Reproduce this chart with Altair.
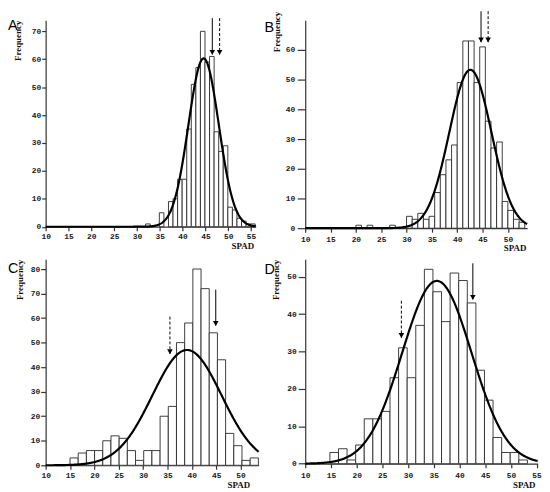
import altair as alt
import pandas as pd

panel_names = ["A", "B", "C", "D"]

# histogram bins (SPAD)
bin_start = [31.9, 20.0, 15.0, 14.8]
bin_width = [1.0, 1.111, 1.68, 1.67]

counts_A = [1, 0, 0, 5, 0, 9, 10, 17, 17, 35, 51, 57, 70, 59, 61, 34, 27, 29, 7, 6, 3, 2, 1, 1]
counts_B = [1, 0, 1, 0, 0, 0, 1, 0, 0, 4, 3, 5, 3, 4, 12, 18, 23, 28, 49, 63, 63, 49, 61,
            36, 27, 29, 9, 6, 3, 2]
counts_C = [3, 5, 6, 6, 10, 12, 11, 6, 2, 6, 6, 20, 24, 50, 58, 80, 72, 54, 43, 13, 8, 2, 3]
counts_D = [3, 4, 1, 5, 12, 12, 14, 23, 31, 23, 37, 52, 46, 38, 51, 49, 43, 25, 17, 7, 3, 3, 1]
all_counts = [counts_A, counts_B, counts_C, counts_D]

# fitted normal curves (mean, sd, peak height)
curve_mean = [44.6, 42.6, 39.0, 35.6]
curve_sd = [3.32, 4.15, 7.1, 6.75]
curve_peak = [60.3, 53.3, 47.0, 48.9]

# arrows (x position, top value, tip value)
solid_x = [46.5, 44.7, 44.9, 42.6]
solid_top = [74.7, 73.0, 71.6, 53.6]
solid_tip = [61.7, 62.6, 56.9, 43.9]
dashed_x = [48.1, 46.1, 35.5, 28.7]
dashed_top = [74.7, 73.0, 60.6, 43.6]
dashed_tip = [61.7, 62.6, 45.4, 33.7]

# axes
x_max = [56.0, 53.8, 53.7, 55.2]
y_max = [74, 70, 84, 54.7]
x_ticks = [list(range(10, 56, 5)), list(range(10, 51, 5)), list(range(10, 51, 5)), list(range(10, 56, 5))]
y_ticks = [list(range(0, 71, 10)), list(range(0, 61, 10)), list(range(0, 81, 10)), list(range(0, 51, 10))]

# layout / style (pixels)
plot_w = [212, 224, 215, 234.6]
plot_h = [208.5, 210, 208, 206.4]
y_tick_size = [4, 8, 5, 7]
y_label_pad = [1, 2.5, 1, 2]
x_label_pad = [2, 3.5, 2.5, 3.5]
ytitle_x = [-23.3, -23.7, -21.5, -24.7]
ytitle_y = [0, -9, 0, 0]
xtitle_x = [210, 222.7, 206, 232]
xtitle_y = [15, 16, 15, 16.6]
letter_x = [-38, -41, -38, -41]
letter_y = [9.7, 11.5, 14, 14.7]


def make_panel(i):
    counts = all_counts[i]
    rows = []
    for k, c in enumerate(counts):
        if c > 0:
            lo = bin_start[i] + k * bin_width[i]
            rows.append({"lo": lo, "hi": lo + bin_width[i], "count": c, "base": 0})
    hist = pd.DataFrame(rows)

    xs = alt.Scale(domain=[10, x_max[i]], nice=False, zero=False)
    ys = alt.Scale(domain=[0, y_max[i]], nice=False)
    x_axis = alt.Axis(
        values=x_ticks[i], title="SPAD", tickSize=4, labelPadding=x_label_pad[i],
        titleAnchor="end", titleAlign="right", titleBaseline="top",
        titleX=xtitle_x[i], titleY=xtitle_y[i])
    y_axis = alt.Axis(
        values=y_ticks[i], title="Frequency", tickSize=y_tick_size[i],
        labelPadding=y_label_pad[i], titleAnchor="end", titleAngle=270,
        titleAlign="right", titleBaseline="bottom",
        titleX=ytitle_x[i], titleY=ytitle_y[i])

    def X(f):
        return alt.X(f, type="quantitative", scale=xs, axis=x_axis)

    def Y(f):
        return alt.Y(f, type="quantitative", scale=ys, axis=y_axis)

    bars = alt.Chart(hist).mark_rect(fill="white", stroke="#2a2a2a", strokeWidth=0.9).encode(
        x=X("lo"), x2="hi:Q", y=Y("count"), y2="base:Q",
    )

    mu, sd, pk = curve_mean[i], curve_sd[i], curve_peak[i]
    curve = alt.Chart(alt.sequence(10, x_max[i] + 0.05, 0.1, as_="x")).transform_calculate(
        f=f"{pk} * exp(-pow(datum.x - {mu}, 2) / (2 * {sd} * {sd}))"
    ).mark_line(color="black", strokeWidth=2.2).encode(x=X("x"), y=Y("f"))

    solid = pd.DataFrame({"x": [solid_x[i]], "top": [solid_top[i]], "tip": [solid_tip[i]]})
    dashed = pd.DataFrame({"x": [dashed_x[i]], "top": [dashed_top[i]], "tip": [dashed_tip[i]]})
    both = pd.concat([solid, dashed], ignore_index=True)

    rule_s = alt.Chart(solid).mark_rule(color="black", strokeWidth=1).encode(
        x=X("x"), y=Y("top"), y2="tip:Q")
    rule_d = alt.Chart(dashed).mark_rule(color="black", strokeWidth=1, strokeDash=[3, 2]).encode(
        x=X("x"), y=Y("top"), y2="tip:Q")
    heads = alt.Chart(both).mark_point(
        shape="triangle-down", filled=True, color="black", opacity=1, size=32, strokeWidth=0, yOffset=-2.2
    ).encode(x=X("x"), y=Y("tip"))

    letter = alt.Chart(alt.Data(values=[{"t": panel_names[i]}])).mark_text(
        align="left", baseline="alphabetic", fontSize=14.5, font="Liberation Sans", color="black"
    ).encode(
        x=alt.value(letter_x[i]),
        y=alt.value(letter_y[i]),
        text="t:N",
    )

    return alt.layer(bars, curve, rule_s, rule_d, heads, letter).properties(
        width=plot_w[i], height=plot_h[i]
    )


chart = alt.concat(
    *[make_panel(i) for i in range(4)],
    columns=2,
    spacing={"row": 31.3, "column": 47},
    bounds="flush",
    align="each",
).properties(padding=0, background="white").configure_view(stroke=None).configure_axis(
    grid=False,
    domainColor="#333333",
    tickColor="#333333",
    domainWidth=1.2,
    tickWidth=1.2,
    labelFont="Liberation Mono",
    labelFontWeight="bold",
    labelFontSize=8,
    labelColor="#1a1a1a",
    titleFont="Liberation Serif",
    titleFontWeight="bold",
    titleFontSize=9,
    titleColor="#111111",
    labelFlush=False,
    labelOverlap=False,
)

chart.save("out.html", embed_options={"renderer": "svg", "actions": False})
